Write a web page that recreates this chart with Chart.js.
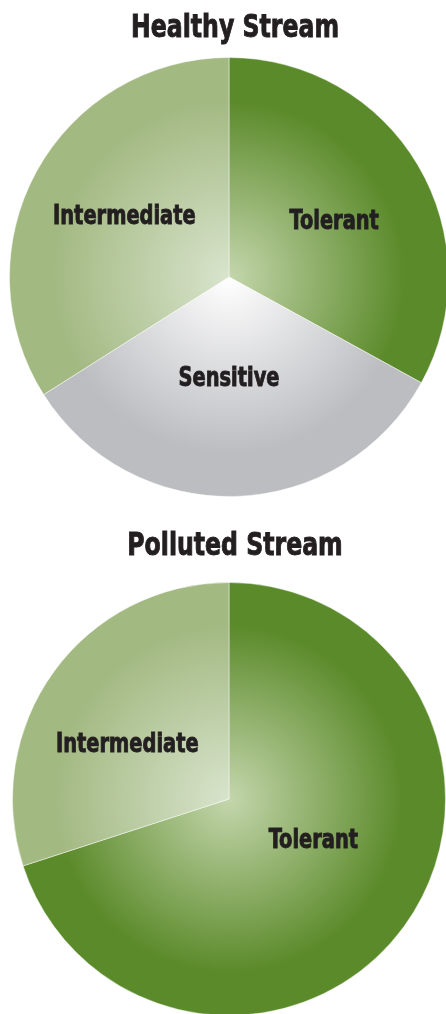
<!DOCTYPE html>
<html>
<head>
<meta charset="utf-8">
<script src="https://cdn.jsdelivr.net/npm/chart.js@4.4.1/dist/chart.umd.min.js"></script>
<style>
  html, body { margin: 0; padding: 0; background: #fff; overflow: hidden; }
  body { width: 446px; height: 1014px; position: relative; }
  .box { position: absolute; left: 0; }
  #healthyBox { top: 0; width: 458px; height: 497px; }
  #pollutedBox { top: 510px; width: 458px; height: 506px; }
</style>
</head>
<body>
<div class="box" id="healthyBox"><canvas id="healthyChart"></canvas></div>
<div class="box" id="pollutedBox"><canvas id="pollutedChart"></canvas></div>
<script>
// Define the data
var healthyLabels = ["Tolerant", "Sensitive", "Intermediate"];
var healthyValues = [33, 33, 34]; // percent of the stream community

var pollutedLabels = ["Tolerant", "Intermediate"];
var pollutedValues = [70, 30];
// End Defining data

// light centre -> edge colour for each group
var shades = {
  "Tolerant":     ["#c4d6ac", "#5b8a2a"],
  "Intermediate": ["#d8e4cc", "#a3b982"],
  "Sensitive":    ["#ffffff", "#bcbdc1"]
};

var FONT = "'DejaVu Sans Condensed', 'Liberation Sans Narrow', sans-serif";
var INK = '#231f20';

function radialFill(context) {
  var chart = context.chart;
  var area = chart.chartArea;
  if (!area) return '#888';
  var name = chart.data.labels[context.dataIndex];
  var cx = (area.left + area.right) / 2;
  var cy = (area.top + area.bottom) / 2;
  var r = Math.min(area.right - area.left, area.bottom - area.top) / 2;
  var g = chart.ctx.createRadialGradient(cx, cy, 0, cx, cy, r);
  g.addColorStop(0, shades[name][0]);
  g.addColorStop(0.8, shades[name][1]);
  g.addColorStop(1, shades[name][1]);
  return g;
}

// condensed heavy text, drawn squeezed horizontally
function heavyText(ctx, text, x, y, size, squeeze) {
  ctx.save();
  ctx.font = 'bold ' + size + 'px ' + FONT;
  ctx.fillStyle = INK;
  ctx.strokeStyle = INK;
  ctx.lineWidth = 0.9;
  ctx.textAlign = 'center';
  ctx.textBaseline = 'alphabetic';
  ctx.translate(x, y);
  ctx.scale(squeeze, 1);
  ctx.fillText(text, 0, 0);
  ctx.strokeText(text, 0, 0);
  ctx.restore();
}

// chart heading
var streamTitle = {
  id: 'streamTitle',
  afterDraw: function (chart, args, opts) {
    heavyText(chart.ctx, opts.text, opts.x, opts.baseline, 32, 0.82);
  }
};

// writes the group name inside each slice
var sliceNames = {
  id: 'sliceNames',
  afterDatasetsDraw: function (chart, args, opts) {
    var meta = chart.getDatasetMeta(0);
    var size = 26;
    meta.data.forEach(function (arc, i) {
      var p = arc.getProps(['x', 'y', 'startAngle', 'endAngle', 'outerRadius'], true);
      var place = opts.place[i];
      var mid = (p.startAngle + p.endAngle) / 2 + place.da * Math.PI / 180;
      var x = p.x + Math.cos(mid) * p.outerRadius * place.f;
      var y = p.y + Math.sin(mid) * p.outerRadius * place.f + size * 0.73 / 2;
      heavyText(chart.ctx, chart.data.labels[i], x, y, size, 0.83);
    });
  }
};

function pieChart(id, title, labels, values, place, top, head) {
  return new Chart(document.getElementById(id), {
    type: 'pie',
    data: {
      labels: labels,
      datasets: [{
        data: values,
        backgroundColor: radialFill,
        borderColor: 'rgba(255,255,255,0.45)',
        borderWidth: 1
      }]
    },
    options: {
      responsive: true,
      maintainAspectRatio: false,
      animation: false,
      layout: { padding: { top: top } },
      plugins: {
        legend: { display: false },
        tooltip: { enabled: false },
        title: { display: false },
        streamTitle: { text: title, x: head.x, baseline: head.baseline },
        sliceNames: { place: place }
      }
    },
    plugins: [sliceNames, streamTitle]
  });
}

pieChart('healthyChart', 'Healthy Stream', healthyLabels, healthyValues,
  [{ f: 0.546, da: 2 }, { f: 0.455, da: 1.8 }, { f: 0.555, da: 2 }],
  57, { x: 235, baseline: 37 });

pieChart('pollutedChart', 'Polluted Stream', pollutedLabels, pollutedValues,
  [{ f: 0.43, da: -11 }, { f: 0.537, da: -7 }],
  72, { x: 235, baseline: 45 });
</script>
</body>
</html>
